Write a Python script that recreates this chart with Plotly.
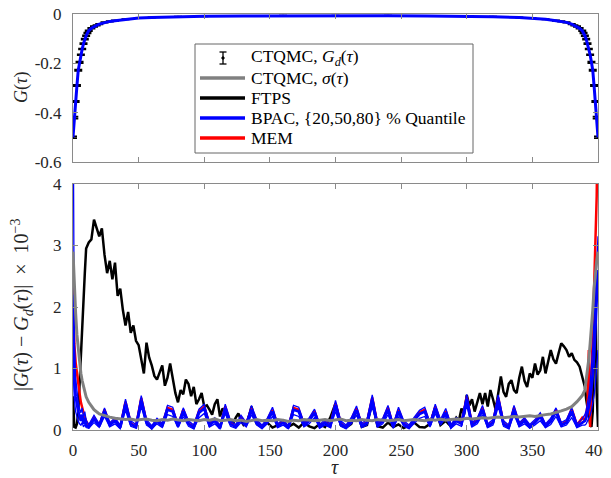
import plotly.graph_objects as go

# ---------------- data: top panel ----------------
tau_top = [0, 1, 2, 3, 4, 5, 6, 7, 8, 9, 10, 11, 12, 14, 16, 18, 20, 24, 28, 32, 40, 50, 60, 80, 100, 130, 160, 200,
           240, 270, 300, 320, 340, 350, 360, 368, 372, 376, 380, 382, 384, 386, 388, 389, 390, 391, 392, 393, 394,
           395, 396, 397, 398, 399, 400]
G_ctqmc = [-0.500, -0.420, -0.355, -0.290, -0.228, -0.196, -0.165, -0.142, -0.120, -0.102, -0.088, -0.077, -0.068,
           -0.058, -0.051, -0.046, -0.041, -0.034, -0.030, -0.027, -0.021, -0.016, -0.014, -0.011, -0.009, -0.008,
           -0.007, -0.007,
           -0.007, -0.008, -0.009, -0.011, -0.014, -0.016, -0.021, -0.027, -0.030, -0.034, -0.041, -0.046, -0.051,
           -0.058, -0.068, -0.077, -0.088, -0.102, -0.120, -0.142, -0.165, -0.196, -0.228, -0.290, -0.355, -0.420,
           -0.500]
G_err = [0.004, 0.004, 0.003, 0.003, 0.003, 0.003, 0.002, 0.002, 0.002, 0.002, 0.002, 0.002, 0.002,
         0.002, 0.002, 0.001, 0.001, 0.001, 0.001, 0.001, 0.001, 0.001, 0.001, 0.001, 0.001, 0.001, 0.001, 0.001,
         0.001, 0.001, 0.001, 0.001, 0.001, 0.001, 0.001, 0.001, 0.001, 0.001, 0.001, 0.001, 0.002, 0.002, 0.002,
         0.002, 0.002, 0.002, 0.002, 0.002, 0.002, 0.003, 0.003, 0.003, 0.003, 0.004, 0.004]
G_bpac = G_ctqmc

# ---------------- data: bottom panel (|G - Gd| x 1e-3) ----------------
tau_bot = list(range(0, 11)) + list(range(12, 389, 4)) + list(range(390, 401))
tau_ftps = (list(range(0, 11)) + list(range(12, 141, 2)) + list(range(144, 285, 4)) +
            list(range(286, 389, 2)) + list(range(390, 401)))

sigma_ctqmc = ([2.90, 2.30, 1.90, 1.55, 1.30, 1.10, 0.92, 0.80, 0.70, 0.60, 0.54] +
               [0.45, 0.33, 0.26, 0.23, 0.21, 0.19, 0.18, 0.17, 0.18, 0.16,
                0.17, 0.18, 0.16, 0.15, 0.17, 0.16, 0.18, 0.16, 0.15, 0.17,
                0.16, 0.15, 0.17, 0.16, 0.18, 0.15, 0.16, 0.17, 0.15, 0.16,
                0.14, 0.16, 0.17, 0.15, 0.16, 0.15, 0.17, 0.16, 0.14, 0.16,
                0.15, 0.17, 0.16, 0.15, 0.16, 0.17, 0.15, 0.16, 0.18, 0.15,
                0.16, 0.15, 0.17, 0.16, 0.15, 0.17, 0.16, 0.15, 0.16, 0.17,
                0.15, 0.16, 0.17, 0.16, 0.15, 0.17, 0.16, 0.18, 0.16, 0.17,
                0.18, 0.17, 0.19, 0.18, 0.19, 0.20, 0.19, 0.20, 0.21, 0.20,
                0.21, 0.22, 0.21, 0.22, 0.23, 0.22, 0.24, 0.25, 0.26, 0.28,
                0.31, 0.34, 0.38, 0.46, 0.56] +
               [0.65, 0.80, 0.95, 1.15, 1.40, 1.63, 1.95, 2.30, 2.55, 2.75, 2.90])

ftps = ([0.55, 0.05, 0.04, 0.10, 0.30, 0.70, 1.10, 1.60, 2.10, 2.55, 2.95] +
        # tau 12..140 step 2
        [3.05, 3.10, 3.42, 3.28, 3.15, 3.28, 2.85, 2.55, 2.75, 2.45,
         2.72, 2.18, 2.30, 1.95, 1.70, 1.92, 1.58, 1.70, 1.45, 1.38,
         1.12, 0.92, 1.42, 1.18, 1.05, 0.88, 0.82, 0.95, 1.05, 0.72,
         0.85, 1.08, 0.80, 0.60, 0.45, 0.65, 0.58, 0.82, 0.75, 0.55,
         0.70, 0.42, 0.50, 0.60, 0.38, 0.40, 0.33, 0.25, 0.42, 0.50,
         0.22, 0.35, 0.30, 0.20, 0.15, 0.11, 0.20, 0.27, 0.15, 0.08,
         0.10, 0.22, 0.38, 0.20, 0.10] +
        # tau 144..284 step 4
        [0.05, 0.12, 0.04, 0.08, 0.15, 0.05, 0.10,
         0.04, 0.12, 0.06, 0.03, 0.10, 0.05, 0.20, 0.43, 0.08, 0.04,
         0.10, 0.33, 0.05, 0.08, 0.46, 0.06, 0.04, 0.12, 0.05, 0.09,
         0.03, 0.07, 0.12, 0.05, 0.04, 0.10, 0.36, 0.08, 0.15] +
        # tau 286..388 step 2
        [0.10, 0.06, 0.12, 0.20, 0.15, 0.35, 0.25, 0.57, 0.40, 0.50,
         0.30, 0.45, 0.60, 0.42, 0.60, 0.38, 0.65, 0.50, 0.33, 0.60,
         0.87, 0.62, 0.54, 0.75, 0.81, 0.65, 0.60, 0.85, 1.03, 0.80,
         0.70, 0.92, 0.85, 1.08, 0.90, 0.97, 1.19, 0.92, 1.10, 1.30,
         1.15, 1.08, 1.25, 1.41, 1.36, 1.30, 1.19, 1.25, 1.14, 1.10,
         1.03, 0.87] +
        [0.70, 0.50, 0.35, 0.20, 0.10, 0.05, 0.30, 1.30, 2.45, 0.60, 0.05])

bpac_q20 = ([1.00, 0.50, 0.30, 0.20, 0.14, 0.10, 0.08, 0.12, 0.05, 0.09, 0.04] +
            [0.03, 0.12, 0.04, 0.22, 0.05, 0.10, 0.02, 0.32, 0.06, 0.03,
             0.38, 0.08, 0.02, 0.10, 0.04, 0.25, 0.22, 0.04, 0.22, 0.06,
             0.02, 0.20, 0.27, 0.05, 0.10, 0.02, 0.27, 0.06, 0.03, 0.12,
             0.05, 0.25, 0.08, 0.02, 0.10, 0.22, 0.04, 0.08, 0.02, 0.25,
             0.22, 0.05, 0.10, 0.20, 0.03, 0.08, 0.04, 0.30, 0.06, 0.02,
             0.10, 0.24, 0.04, 0.08, 0.38, 0.05, 0.10, 0.25, 0.03, 0.22,
             0.06, 0.02, 0.11, 0.19, 0.22, 0.05, 0.27, 0.08, 0.20, 0.03,
             0.10, 0.06, 0.40, 0.05, 0.10, 0.25, 0.04, 0.08, 0.38, 0.06,
             0.02, 0.25, 0.05, 0.10, 0.03, 0.08, 0.15, 0.04, 0.09, 0.22,
             0.05, 0.08, 0.20, 0.04, 0.08] +
            [0.08, 0.10, 0.14, 0.18, 0.24, 0.32, 0.42, 0.56, 0.75, 1.00, 1.30])

bpac_q50 = ([2.20, 0.90, 0.55, 0.40, 0.30, 0.22, 0.15, 0.25, 0.10, 0.20, 0.08] +
            [0.05, 0.18, 0.06, 0.30, 0.08, 0.15, 0.04, 0.42, 0.10, 0.05,
             0.48, 0.12, 0.03, 0.14, 0.07, 0.33, 0.30, 0.06, 0.30, 0.10,
             0.04, 0.28, 0.35, 0.08, 0.15, 0.03, 0.35, 0.10, 0.05, 0.18,
             0.08, 0.33, 0.12, 0.04, 0.14, 0.30, 0.06, 0.12, 0.03, 0.33,
             0.30, 0.08, 0.15, 0.28, 0.05, 0.12, 0.06, 0.40, 0.10, 0.04,
             0.15, 0.32, 0.07, 0.12, 0.49, 0.08, 0.14, 0.33, 0.05, 0.30,
             0.10, 0.04, 0.16, 0.26, 0.30, 0.08, 0.35, 0.12, 0.28, 0.05,
             0.15, 0.10, 0.50, 0.08, 0.14, 0.33, 0.06, 0.12, 0.49, 0.10,
             0.04, 0.33, 0.08, 0.15, 0.05, 0.12, 0.22, 0.06, 0.14, 0.30,
             0.08, 0.12, 0.30, 0.06, 0.12] +
            [0.15, 0.20, 0.28, 0.38, 0.50, 0.68, 0.90, 1.20, 1.60, 2.10, 2.60])

bpac_q80 = ([6.00, 1.40, 0.85, 0.60, 0.45, 0.35, 0.28, 0.36, 0.20, 0.30, 0.16] +
            [0.09, 0.24, 0.10, 0.36, 0.12, 0.20, 0.08, 0.50, 0.15, 0.09,
             0.56, 0.17, 0.07, 0.19, 0.11, 0.40, 0.37, 0.10, 0.36, 0.15,
             0.08, 0.34, 0.42, 0.12, 0.20, 0.07, 0.42, 0.15, 0.09, 0.24,
             0.12, 0.40, 0.17, 0.08, 0.19, 0.37, 0.10, 0.17, 0.07, 0.40,
             0.37, 0.12, 0.20, 0.34, 0.09, 0.17, 0.10, 0.48, 0.15, 0.08,
             0.20, 0.39, 0.11, 0.17, 0.57, 0.12, 0.19, 0.40, 0.09, 0.37,
             0.15, 0.08, 0.21, 0.32, 0.37, 0.12, 0.42, 0.17, 0.35, 0.09,
             0.20, 0.15, 0.58, 0.12, 0.19, 0.40, 0.10, 0.17, 0.57, 0.15,
             0.08, 0.40, 0.12, 0.20, 0.09, 0.17, 0.28, 0.10, 0.19, 0.36,
             0.12, 0.17, 0.36, 0.10, 0.18] +
            [0.25, 0.32, 0.42, 0.56, 0.75, 1.00, 1.35, 1.80, 2.35, 2.80, 3.15])

mem = ([2.70, 1.40, 1.10, 0.90, 0.72, 0.60, 0.45, 0.35, 0.28, 0.20, 0.15] +
       [0.06, 0.20, 0.07, 0.33, 0.09, 0.17, 0.05, 0.46, 0.11, 0.06,
        0.52, 0.13, 0.04, 0.16, 0.08, 0.36, 0.33, 0.07, 0.33, 0.11,
        0.05, 0.31, 0.38, 0.09, 0.17, 0.04, 0.38, 0.11, 0.06, 0.20,
        0.09, 0.36, 0.13, 0.05, 0.16, 0.33, 0.07, 0.13, 0.04, 0.36,
        0.33, 0.09, 0.17, 0.31, 0.06, 0.13, 0.07, 0.44, 0.11, 0.05,
        0.17, 0.35, 0.08, 0.13, 0.53, 0.09, 0.16, 0.36, 0.06, 0.33,
        0.11, 0.05, 0.18, 0.29, 0.33, 0.09, 0.38, 0.13, 0.31, 0.06,
        0.17, 0.11, 0.54, 0.09, 0.16, 0.36, 0.07, 0.13, 0.53, 0.11,
        0.05, 0.36, 0.09, 0.17, 0.06, 0.13, 0.25, 0.07, 0.16, 0.33,
        0.09, 0.14, 0.34, 0.08, 0.20] +
       [0.15, 0.25, 0.40, 1.30, 0.05, 0.80, 1.50, 2.30, 3.00, 3.80, 5.50])

legend_labels = ["CTQMC, <i>G</i><sub><i>d</i></sub>(<i>τ</i>)",
                 "CTQMC, <i>σ</i>(<i>τ</i>)",
                 "FTPS",
                 "BPAC, {20,50,80} % Quantile",
                 "MEM"]

# ---------------- styling ----------------
# the page body has an 8 px margin, so the figure is placed at (8, 8) in the window
OFF = 8
W, H = 611 - OFF, 478 - OFF
ML, MR, MT, MB = 73 - OFF, 13, 14 - OFF, 48
PW, PH = W - ML - MR, H - MT - MB
FONT = "Liberation Serif, Times New Roman, serif"
AX = "#8a8a8a"
TXT = "#262626"
GRAY = "#808080"


def px(x):
    # window pixel x -> paper coordinate
    return (x - OFF - ML) / PW


def py(y):
    # window pixel y -> paper coordinate
    return (H - MB - (y - OFF)) / PH


fig = go.Figure()

# top panel
fig.add_trace(go.Scatter(x=tau_top, y=G_ctqmc, mode="markers", xaxis="x", yaxis="y",
                         marker=dict(color="black", size=2),
                         error_y=dict(type="data", array=G_err, color="black", thickness=1.6, width=4),
                         showlegend=False))
fig.add_trace(go.Scatter(x=tau_top, y=G_bpac, mode="lines", xaxis="x", yaxis="y",
                         line=dict(color="#0000ff", width=3), showlegend=False))

# bottom panel
fig.add_trace(go.Scatter(x=tau_ftps, y=ftps, mode="lines", xaxis="x2", yaxis="y2",
                         line=dict(color="black", width=2.5), showlegend=False))
fig.add_trace(go.Scatter(x=tau_bot, y=mem, mode="lines", xaxis="x2", yaxis="y2",
                         line=dict(color="#ff0000", width=2.5), showlegend=False))
fig.add_trace(go.Scatter(x=tau_bot, y=bpac_q20, mode="lines", xaxis="x2", yaxis="y2",
                         line=dict(color="#0000ff", width=1.3), showlegend=False))
fig.add_trace(go.Scatter(x=tau_bot, y=bpac_q80, mode="lines", xaxis="x2", yaxis="y2",
                         line=dict(color="#0000ff", width=1.3), showlegend=False))
fig.add_trace(go.Scatter(x=tau_bot, y=bpac_q50, mode="lines", xaxis="x2", yaxis="y2",
                         line=dict(color="#0000ff", width=2.8), showlegend=False))
fig.add_trace(go.Scatter(x=tau_bot, y=sigma_ctqmc, mode="lines", xaxis="x2", yaxis="y2",
                         line=dict(color=GRAY, width=3), showlegend=False))

axis_common = dict(showline=True, linecolor=AX, linewidth=1, mirror="ticks", ticks="inside",
                   ticklen=5, tickcolor=AX, tickwidth=1, showgrid=False, zeroline=False,
                   automargin=False, ticklabeloverflow="allow",
                   tickfont=dict(family=FONT, size=17, color=TXT))

top_dom = [py(162), py(14)]
bot_dom = [py(430), py(184)]

fig.update_layout(
    width=W, height=H, margin=dict(l=ML, r=MR, t=MT, b=MB, autoexpand=False),
    paper_bgcolor="white", plot_bgcolor="white", showlegend=False,
    xaxis=dict(domain=[0, 1], anchor="y", range=[0, 400], tickvals=list(range(0, 401, 50)),
               showticklabels=False, **axis_common),
    yaxis=dict(domain=top_dom, anchor="x", range=[-0.6, 0], tickvals=[-0.6, -0.4, -0.2, 0],
               ticktext=["-0.6", "-0.4", "-0.2", "0"], ticklabelstandoff=7, **axis_common),
    xaxis2=dict(domain=[0, 1], anchor="y2", range=[0, 400], tickvals=list(range(0, 401, 50)),
                ticklabelstandoff=5, **axis_common),
    yaxis2=dict(domain=bot_dom, anchor="x2", range=[0, 4], tickvals=[0, 1, 2, 3, 4],
                ticklabelstandoff=7, **axis_common),
)

annotations = [
    dict(text="<i>G</i>(<i>τ</i>)", x=px(21), y=py(88), xref="paper", yref="paper",
         textangle=-90, showarrow=False, font=dict(family=FONT, size=18, color=TXT),
         xanchor="center", yanchor="middle"),
    dict(text="|<i>G</i>(<i>τ</i>) − <i>G</i><sub><i>d</i></sub>(<i>τ</i>)|  ×  10<sup>−3</sup>",
         x=px(22), y=py(305), xref="paper", yref="paper",
         textangle=-90, showarrow=False, font=dict(family=FONT, size=20, color=TXT),
         xanchor="center", yanchor="middle"),
    dict(text="<i>τ</i>", x=px(335), y=py(467), xref="paper", yref="paper",
         showarrow=False, font=dict(family=FONT, size=20, color=TXT),
         xanchor="center", yanchor="middle"),
]

# manual legend
shapes = [dict(type="rect", xref="paper", yref="paper", x0=px(195), x1=px(473), y0=py(153), y1=py(44),
               line=dict(color="#666666", width=1), fillcolor="white", layer="above")]
rows = [58, 78, 98, 118, 138]
line_cols = [None, GRAY, "black", "#0000ff", "#ff0000"]
for i, (r, lab) in enumerate(zip(rows, legend_labels)):
    annotations.append(dict(text=lab, x=px(249), y=py(r), xref="paper", yref="paper", showarrow=False,
                            xanchor="left", yanchor="middle", font=dict(family=FONT, size=17.5, color="black")))
    if line_cols[i] is not None:
        shapes.append(dict(type="line", xref="paper", yref="paper", x0=px(200), x1=px(245),
                           y0=py(r), y1=py(r), line=dict(color=line_cols[i], width=3.5), layer="above"))
# errorbar icon
cx = 223
shapes += [
    dict(type="line", xref="paper", yref="paper", x0=px(cx), x1=px(cx), y0=py(52), y1=py(64),
         line=dict(color="black", width=1.3), layer="above"),
    dict(type="line", xref="paper", yref="paper", x0=px(cx - 3.5), x1=px(cx + 3.5), y0=py(52), y1=py(52),
         line=dict(color="black", width=1.3), layer="above"),
    dict(type="line", xref="paper", yref="paper", x0=px(cx - 3.5), x1=px(cx + 3.5), y0=py(64), y1=py(64),
         line=dict(color="black", width=1.3), layer="above"),
    dict(type="circle", xref="paper", yref="paper", x0=px(cx - 1.2), x1=px(cx + 1.2), y0=py(59.2), y1=py(56.8),
         line=dict(color="black", width=1), fillcolor="black", layer="above"),
]

fig.update_layout(annotations=annotations, shapes=shapes)
fig.write_html("out.html")
